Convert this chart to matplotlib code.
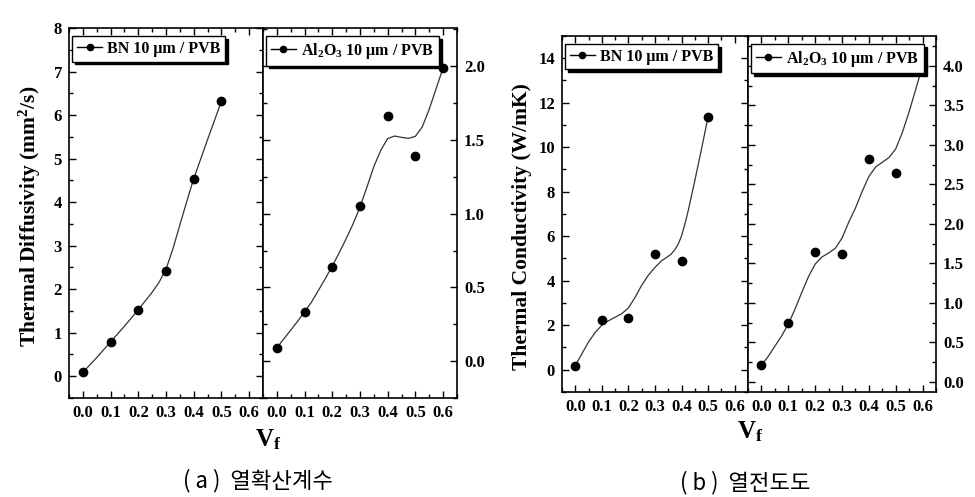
import numpy as np
import matplotlib
matplotlib.use("Agg")
import matplotlib.pyplot as plt
from matplotlib.lines import Line2D
from matplotlib.ticker import MultipleLocator, FormatStrFormatter

plt.rcParams['font.family'] = ['Liberation Serif', 'DejaVu Serif']
plt.rcParams['font.weight'] = 'bold'
plt.rcParams['mathtext.fontset'] = 'custom'
plt.rcParams['mathtext.rm'] = 'Liberation Serif:bold'
plt.rcParams['mathtext.it'] = 'Liberation Serif:italic:bold'
plt.rcParams['mathtext.bf'] = 'Liberation Serif:bold'

# measured points
vf_bn = [0.0, 0.1, 0.2, 0.3, 0.4, 0.5]
vf_al = [0.0, 0.1, 0.2, 0.3, 0.4, 0.5, 0.6]
diff_bn = [0.09, 0.79, 1.52, 2.41, 4.54, 6.32]
diff_al = [0.09, 0.33, 0.64, 1.05, 1.66, 1.39, 1.99]
cond_bn = [0.19, 2.25, 2.34, 5.21, 4.88, 11.38]
cond_al = [0.21, 0.74, 1.64, 1.62, 2.82, 2.64, 4.00]

# smooth fit curves, every 0.025
cx_bn = [0.0, 0.025, 0.05, 0.075, 0.1, 0.125, 0.15, 0.175, 0.2, 0.225, 0.25,
         0.275, 0.3, 0.325, 0.35, 0.375, 0.4, 0.425, 0.45, 0.475, 0.5]
cx_al = cx_bn + [0.525, 0.55, 0.575, 0.6]
diff_bn_fit = [0.09, 0.26, 0.43, 0.61, 0.79, 0.97, 1.15, 1.34, 1.53, 1.73, 1.93,
               2.16, 2.46, 2.93, 3.48, 4.02, 4.54, 4.99, 5.44, 5.88, 6.32]
diff_al_fit = [0.09, 0.15, 0.21, 0.27, 0.335, 0.40, 0.48, 0.56, 0.645, 0.735, 0.83,
               0.93, 1.045, 1.18, 1.32, 1.43, 1.51, 1.527, 1.518, 1.511, 1.525,
               1.59, 1.71, 1.85, 1.99]
cx_bn_c = [0.0, 0.025, 0.05, 0.075, 0.1, 0.125, 0.15, 0.175, 0.2, 0.225, 0.25,
           0.275, 0.3, 0.325, 0.35, 0.3625, 0.375, 0.3875, 0.4, 0.4125, 0.425,
           0.45, 0.475, 0.5]
cond_bn_fit = [0.19, 0.72, 1.25, 1.68, 2.00, 2.20, 2.36, 2.52, 2.78, 3.25, 3.80,
               4.25, 4.60, 4.90, 5.10, 5.22, 5.40, 5.65, 6.02, 6.55, 7.15,
               8.51, 9.92, 11.38]
cond_al_fit = [0.21, 0.32, 0.45, 0.58, 0.73, 0.92, 1.13, 1.33, 1.49, 1.58, 1.63,
               1.69, 1.82, 2.02, 2.20, 2.41, 2.60, 2.72, 2.78, 2.84, 2.95,
               3.16, 3.42, 3.71, 4.00]

lbl_bn = 'BN 10 \u03bcm / PVB'
lbl_al = 'Al$_{2}$O$_{3}$ 10 \u03bcm / PVB'


def setup(ax, ylim, major, minor, yfmt, side):
    ax.set_xlim(-0.05, 0.65)
    ax.set_ylim(*ylim)
    ax.xaxis.set_major_locator(MultipleLocator(0.1))
    ax.xaxis.set_minor_locator(MultipleLocator(0.05))
    ax.yaxis.set_major_locator(MultipleLocator(major))
    ax.yaxis.set_minor_locator(MultipleLocator(minor))
    ax.xaxis.set_major_formatter(FormatStrFormatter('%.1f'))
    ax.yaxis.set_major_formatter(FormatStrFormatter(yfmt))
    ax.tick_params(which='both', direction='in', top=True, bottom=True,
                   left=True, right=True, labelsize=12, width=1, pad=5)
    ax.tick_params(which='major', length=5)
    ax.tick_params(which='minor', length=3)
    if side == 'right':
        ax.tick_params(labelleft=False, labelright=True)
    for s in ax.spines.values():
        s.set_linewidth(1.2)


def draw(ax, x, y, cx, cy, label):
    ax.plot(cx, cy, color='#333333', lw=0.9)
    ax.plot(x, y, 'o', color='k', ms=6)
    h = Line2D([], [], color='k', lw=1, marker='o', ms=4.5)
    ax.legend([h], [label], loc='upper left', bbox_to_anchor=(0.015, 0.978),
              borderaxespad=0, fancybox=False, edgecolor='k', framealpha=1,
              shadow={'color': 'k', 'alpha': 1}, fontsize=11.5,
              handlelength=1.6, handletextpad=0.3, borderpad=0.3)


fig = plt.figure(figsize=(9.75, 4.97), dpi=100)

ax1 = fig.add_axes([0.0708, 0.1992, 0.199, 0.7445])
ax2 = fig.add_axes([0.2697, 0.1992, 0.199, 0.7445])
ax3 = fig.add_axes([0.5764, 0.2113, 0.1908, 0.7163])
ax4 = fig.add_axes([0.7672, 0.2113, 0.1928, 0.7163])

setup(ax1, (-0.5, 8), 1, 0.5, '%d', 'left')
setup(ax2, (-0.25, 2.26), 0.5, 0.25, '%.1f', 'right')
setup(ax3, (-1, 15), 2, 1, '%d', 'left')
setup(ax4, (-0.13, 4.38), 0.5, 0.25, '%.1f', 'right')

draw(ax1, vf_bn, diff_bn, cx_bn, diff_bn_fit, lbl_bn)
draw(ax2, vf_al, diff_al, cx_al, diff_al_fit, lbl_al)
draw(ax3, vf_bn, cond_bn, cx_bn_c, cond_bn_fit, lbl_bn)
draw(ax4, vf_al, cond_al, cx_al, cond_al_fit, lbl_al)

fig.text(0.031, 0.565, 'Thermal Diffusivity (mm$^{2}$/s)', rotation=90,
         ha='center', va='center', fontsize=15.5)
fig.text(0.535, 0.545, 'Thermal Conductivity (W/mK)', rotation=90,
         ha='center', va='center', fontsize=15.5)
fig.text(0.275, 0.115, r'V$_{\mathrm{f}}$', ha='center', va='center', fontsize=18)
fig.text(0.769, 0.131, r'V$_{\mathrm{f}}$', ha='center', va='center', fontsize=18)

fig.text(0.265, 0.034, '( a )  열확산계수', ha='center', va='center', fontsize=16,
         family=['Noto Sans CJK KR'], weight='normal')
fig.text(0.764, 0.030, '( b )  열전도도', ha='center', va='center', fontsize=16,
         family=['Noto Sans CJK KR'], weight='normal')

fig.savefig('out.png', dpi=100)
